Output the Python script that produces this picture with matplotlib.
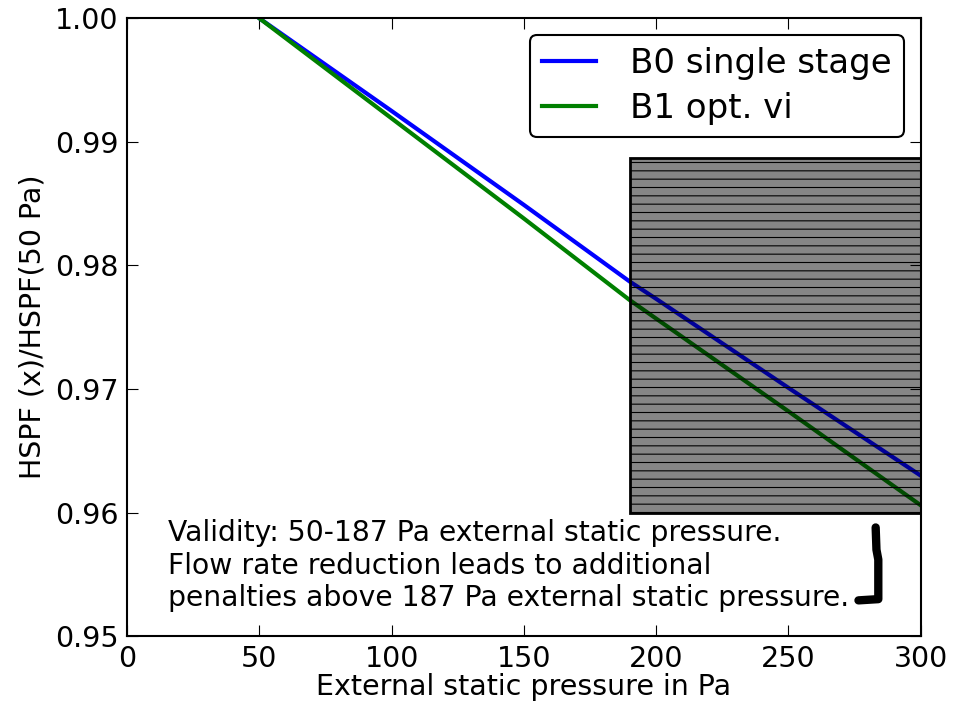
import matplotlib.pyplot as plt
import numpy as np
from matplotlib.patches import Rectangle

pressure = [50, 100, 150, 190, 200, 250, 300]
b0_single = [1.0, 0.9925, 0.9849, 0.9787, 0.9773, 0.9701, 0.9630]
b1_opt_vi = [1.0, 0.9919, 0.9838, 0.9772, 0.9757, 0.9682, 0.9606]

invalid_x = (190, 300)
invalid_y = (0.960, 0.9887)

note = ("Validity: 50-187 Pa external static pressure.\n"
        "Flow rate reduction leads to additional\n"
        "penalties above 187 Pa external static pressure.")
arrow_x = [283, 283.3, 284, 284, 276.5]
arrow_y = [0.9588, 0.9570, 0.9562, 0.9530, 0.9529]

fig = plt.figure(figsize=(9.63, 7.03), dpi=100)
ax = fig.add_axes([0.132, 0.095, 0.824, 0.879])

ax.plot(pressure, b0_single, color='blue', lw=3, label='B0 single stage', zorder=2)
ax.plot(pressure, b1_opt_vi, color='green', lw=3, label='B1 opt. vi', zorder=2)

w = invalid_x[1] - invalid_x[0]
h = invalid_y[1] - invalid_y[0]
# light base under the lines, dark translucent hatched layer on top
ax.add_patch(Rectangle((invalid_x[0], invalid_y[0]), w, h, facecolor='0.88',
                       edgecolor='none', zorder=1))
plt.rcParams['hatch.linewidth'] = 0.8
ax.add_patch(Rectangle((invalid_x[0], invalid_y[0]), w, h, facecolor=(0, 0, 0, 0.4),
                       edgecolor='black', hatch='--', lw=2, zorder=3))

ax.text(15.5, 0.9557, note, fontsize=20.3, va='center', linespacing=1.2)
ax.plot(arrow_x, arrow_y, color='black', lw=6, solid_capstyle='round', zorder=4)

ax.set_xlim(0, 300)
ax.set_ylim(0.95, 1.0)
ax.set_xticks(np.arange(0, 301, 50))
ax.set_yticks(np.arange(0.95, 1.001, 0.01))
ax.set_yticklabels(['0.95', '0.96', '0.97', '0.98', '0.99', '1.00'])
ax.tick_params(direction='in', length=8, labelsize=20.5, top=True, right=True, pad=6)
for s in ax.spines.values():
    s.set_linewidth(1.5)
ax.set_xlabel('External static pressure in Pa', fontsize=20.5, labelpad=0)
ax.set_ylabel('HSPF (x)/HSPF(50 Pa)', fontsize=20.5, labelpad=6)

leg = ax.legend(loc='upper right', fontsize=24.5, fancybox=True, framealpha=1,
                handlelength=1.6, handletextpad=1.0, borderpad=0.35,
                labelspacing=0.35)
leg.get_frame().set_edgecolor('black')
leg.get_frame().set_linewidth(1.5)

plt.savefig('out.png', dpi=100)
plt.close()
